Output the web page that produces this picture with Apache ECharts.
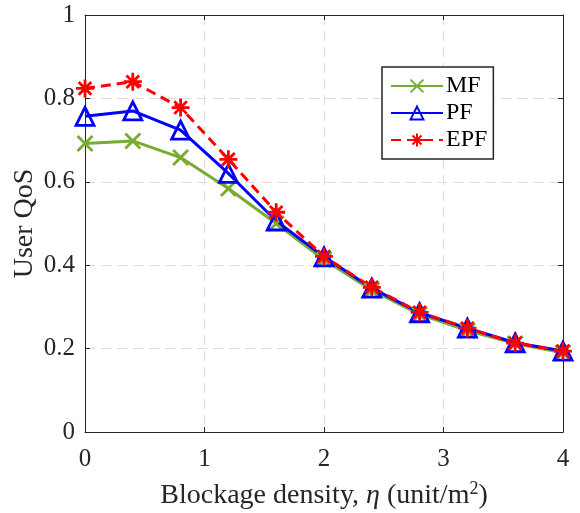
<!DOCTYPE html>
<html>
<head>
<meta charset="utf-8">
<script src="https://cdn.jsdelivr.net/npm/echarts@6/dist/echarts.min.js"></script>
<style>
  html, body { margin: 0; padding: 0; background: #fff; }
  #chart { width: 580px; height: 513px; }
</style>
</head>
<body>
<div id="chart"></div>
<script>
// blockage density (unit/m^2)
var xs = [0, 0.4, 0.8, 1.2, 1.6, 2.0, 2.4, 2.8, 3.2, 3.6, 4.0];
var mf  = [0.692, 0.698, 0.658, 0.584, 0.500, 0.413, 0.340, 0.282, 0.243, 0.212, 0.190];
var pf  = [0.757, 0.770, 0.724, 0.620, 0.506, 0.420, 0.345, 0.286, 0.249, 0.214, 0.194];
var epf = [0.824, 0.840, 0.778, 0.654, 0.527, 0.421, 0.347, 0.287, 0.249, 0.213, 0.194];
var yTicks = [0, 0.2, 0.4, 0.6, 0.8, 1];

var font = "Liberation Serif";
var ink = "#262626";

function pairs(vals) {
  var arr = [];
  for (var i = 0; i < xs.length; i++) {
    arr.push([xs[i], vals[i]]);
  }
  return arr;
}

var crossPath = "path://M0,0L10,10M10,0L0,10";
var starPath = "path://M5,0L5,10M0,5L10,5M1.5,1.5L8.5,8.5M8.5,1.5L1.5,8.5";

var myChart = echarts.init(document.getElementById("chart"));
var option = {
  animation: false,
  backgroundColor: "#fff",
  grid: {
    left: 85,
    right: 17,
    top: 15,
    bottom: 81,
    containLabel: false,
    outerBoundsMode: "none"
  },
  legend: {
    left: 382,
    top: 67,
    orient: "vertical",
    itemWidth: 52,
    itemHeight: 16,
    itemGap: 3,
    padding: [7, 6, 7, 8],
    borderColor: ink,
    borderWidth: 1.5,
    backgroundColor: "#fff",
    textStyle: { fontFamily: font, fontSize: 24, color: "#000", padding: [0, 0, 0, -2] },
    data: ["MF", "PF", "EPF"]
  },
  xAxis: [
    {
      type: "value",
      min: 0,
      max: 4,
      interval: 1,
      name: "{a|Blockage density, }{i|η}{a| (unit/m}{s|2}{a|)}",
      nameLocation: "middle",
      nameGap: 48,
      nameMoveOverlap: false,
      nameTextStyle: {
        rich: {
          a: { fontFamily: font, fontSize: 28, color: ink },
          i: { fontFamily: font, fontSize: 28, color: ink, fontStyle: "italic" },
          s: { fontFamily: font, fontSize: 18, color: ink, verticalAlign: "bottom", padding: [0, 0, 13, 0] }
        }
      },
      axisLine: { show: true, lineStyle: { color: ink, width: 1 } },
      axisTick: { show: true, inside: true, length: 5, lineStyle: { color: ink } },
      axisLabel: { fontFamily: font, fontSize: 25, color: ink, margin: 15 },
      splitLine: { show: true, lineStyle: { color: "#dcdcdc", type: [10, 6], width: 1 } }
    },
    {
      type: "value",
      position: "top",
      min: 0,
      max: 4,
      interval: 1,
      axisLine: { show: true, onZero: false, lineStyle: { color: ink } },
      axisTick: { show: true, inside: true, length: 5, lineStyle: { color: ink } },
      axisLabel: { show: false },
      splitLine: { show: false }
    }
  ],
  yAxis: [
    {
      type: "value",
      min: yTicks[0],
      max: yTicks[yTicks.length - 1],
      interval: 0.2,
      name: "User QoS",
      nameLocation: "middle",
      nameGap: 46,
      nameMoveOverlap: false,
      nameTextStyle: { fontFamily: font, fontSize: 28, color: ink },
      axisLine: { show: true, lineStyle: { color: ink, width: 1 } },
      axisTick: { show: true, inside: true, length: 5, lineStyle: { color: ink } },
      axisLabel: { fontFamily: font, fontSize: 25, color: ink, margin: 10 },
      splitLine: { show: true, lineStyle: { color: "#dcdcdc", type: [10, 6], width: 1 } }
    },
    {
      type: "value",
      position: "right",
      min: 0,
      max: 1,
      interval: 0.2,
      axisLine: { show: true, onZero: false, lineStyle: { color: ink } },
      axisTick: { show: true, inside: true, length: 5, lineStyle: { color: ink } },
      axisLabel: { show: false },
      splitLine: { show: false }
    }
  ],
  series: [
    {
      name: "MF",
      type: "line",
      data: pairs(mf),
      symbol: crossPath,
      symbolSize: 15,
      lineStyle: { color: "#77ac30", width: 3 },
      itemStyle: { color: "rgba(0,0,0,0)", borderColor: "#77ac30", borderWidth: 2.8 }
    },
    {
      name: "PF",
      type: "line",
      data: pairs(pf),
      symbol: "triangle",
      symbolSize: 18,
      lineStyle: { color: "#0000ff", width: 3 },
      itemStyle: { color: "rgba(0,0,0,0)", borderColor: "#0000ff", borderWidth: 2.8 }
    },
    {
      name: "EPF",
      type: "line",
      data: pairs(epf),
      symbol: starPath,
      symbolSize: 18,
      lineStyle: { color: "#ff0000", width: 3, type: [10, 6] },
      itemStyle: { color: "rgba(0,0,0,0)", borderColor: "#ff0000", borderWidth: 2.8 }
    }
  ]
};
myChart.setOption(option);
</script>
</body>
</html>
